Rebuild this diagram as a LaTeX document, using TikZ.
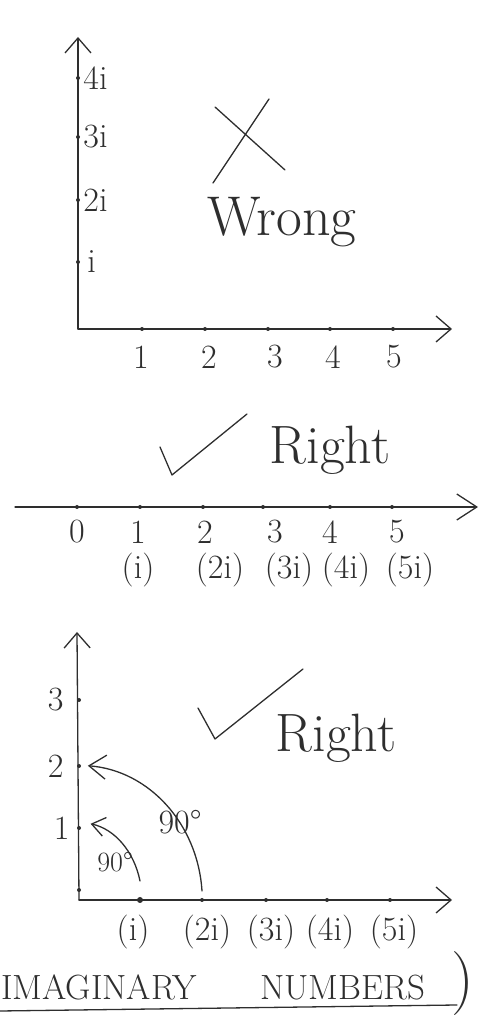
\documentclass[tikz,border=0pt]{standalone}
\usepackage{fontspec}
\usepackage{tikz}
\usetikzlibrary{positioning,arrows.meta}
\definecolor{ink}{HTML}{2E2E2E}

\begin{document}
\begin{tikzpicture}[x=1pt,y=1pt,
  pen/.style={draw=ink,line width=1.3pt,line cap=round,line join=round},
  ax/.style={pen,-{Straight Barb[length=15pt,width=26pt]}},
  arr/.style={pen,-{Straight Barb[length=13pt,width=19pt]}},
  tk/.style={circle,fill=ink,inner sep=0pt,minimum size=4pt},
  num/.style={text=ink,inner sep=1pt,font=\fontsize{34}{36}\selectfont},
  pnum/.style={num,font=\fontsize{34}{36}\selectfont},
  big/.style={text=ink,inner sep=0pt,font=\fontsize{54}{58}\selectfont},
  ttl/.style={text=ink,inner sep=0pt,font=\fontsize{35}{40}\selectfont}]
\useasboundingbox (0,0) rectangle (482,1022);
% ---- wrong: i on the vertical axis ----
\coordinate (o1) at (78,693);
\coordinate (y1) at (78,985);
\coordinate (x1) at (452,693);
\draw[ax] (o1)--(y1); \draw[ax] (o1)--(x1);
\node[tk] (ta1) at (142,693) {}; \node[tk] (ta2) at (205,693) {};
\node[tk] (ta3) at (268,693) {}; \node[tk] (ta4) at (330,693) {};
\node[tk] (ta5) at (393,693) {};
\node[tk] (tb1) at (78,760) {}; \node[tk] (tb2) at (78,822) {};
\node[tk] (tb3) at (78,885) {}; \node[tk] (tb4) at (78,944) {};
\node[num,right=2pt of tb4] (lb4) {4i};
\node[num,right=2pt of tb3] (lb3) {3i};
\node[num,right=2pt of tb2] (lb2) {2i};
\node[num,right=6pt of tb1] (lb1) {i};
\node[num] (la1) at (141,665) {1}; \node[num] (la2) at (209,665) {2};
\node[num] (la3) at (275,665) {3}; \node[num] (la4) at (333,665) {4};
\node[num] (la5) at (394,665) {5};
\draw[pen] (215,915)--(285,852);
\draw[pen] (269,923)--(213,839);
\node[big,font=\fontsize{56}{60}\selectfont] (wrong) at (282,800) {Wrong};
% ---- right: one number line ----
\coordinate (m0) at (15,515);
\coordinate (m1) at (478,515);
\draw[pen,-{Straight Barb[length=20pt,width=26pt]}] (m0)--(m1);
\node[tk] (n0) at (77,515) {}; \node[tk] (n1) at (140,515) {};
\node[tk] (n2) at (203,515) {}; \node[tk] (n3) at (263,515) {};
\node[tk] (n4) at (330,515) {}; \node[tk] (n5) at (392,515) {};
\node[num] (ln0) at (77,490) {0}; \node[num] (ln1) at (138,490) {1};
\node[num] (ln2) at (205,490) {2}; \node[num] (ln3) at (275,490) {3};
\node[num] (ln4) at (330,490) {4}; \node[num] (ln5) at (397,490) {5};
\node[pnum] (li1) at (138,452) {(i)}; \node[pnum] (li2) at (220,452) {(2i)};
\node[pnum] (li3) at (289,452) {(3i)}; \node[pnum] (li4) at (346,452) {(4i)};
\node[pnum] (li5) at (410,452) {(5i)};
\draw[pen] (160,575)--(172,547)--(247,608);
\node[big] (right1) at (330,572) {Right};
% ---- right: real and imaginary axes ----
\coordinate (o3) at (79,122);
\coordinate (y3) at (77,390);
\coordinate (x3) at (452,122);
\draw[ax] (o3)--(y3); \draw[ax] (o3)--(x3);
\node[tk,minimum size=6pt] (ba1) at (140,122) {}; \node[tk] (ba2) at (202,122) {};
\node[tk] (ba3) at (266,122) {}; \node[tk] (ba4) at (327,122) {};
\node[tk] (ba5) at (390,122) {};
\node[tk] (bb0) at (79,132) {}; \node[tk] (bb1) at (79,194) {};
\node[tk] (bb2) at (79,256) {}; \node[tk] (bb3) at (79,322) {};
\node[num,left=12pt of bb3] (lc3) {3};
\node[num,left=12pt of bb2] (lc2) {2};
\node[num,left=6pt of bb1] (lc1) {1};
\coordinate (s1) at (140,141);
\coordinate (s2) at (202,131);
\draw[arr] (s1) arc[start angle=14,end angle=80,x radius=62,y radius=77];
\draw[arr,-{Straight Barb[length=17pt,width=24pt]}] (s2) arc[start angle=4,end angle=86,x radius=123,y radius=135];
\node[num,font=\fontsize{28}{30}\selectfont] (ang1) at (115,160) {90°};
\node[num,font=\fontsize{34}{36}\selectfont] (ang2) at (180,200) {90°};
\draw[pen] (198,314)--(215,283)--(303,353);
\node[big] (right2) at (336,284) {Right};
\node[num] (lp1) at (133,90) {(i)}; \node[num] (lp2) at (207,90) {(2i)};
\node[num] (lp3) at (271,90) {(3i)}; \node[num] (lp4) at (330,90) {(4i)};
\node[num] (lp5) at (394,90) {(5i)};
% ---- title ----
\node[ttl,anchor=base west] (t1) at (1,22) {IMAGINARY};
\node[ttl,anchor=base west] (t2) at (260,22) {NUMBERS};
\node[ttl,font=\fontsize{64}{66}\selectfont] (t3) at (463,38) {)};
\coordinate (u0) at (0,11);
\coordinate (u1) at (457,17);
\draw[pen] (u0)--(u1);
\end{tikzpicture}
\end{document}
